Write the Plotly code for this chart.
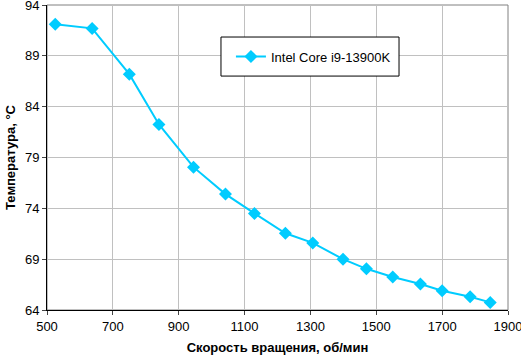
import plotly.graph_objects as go

rpm = [525, 637, 750, 840, 945, 1042, 1130, 1224, 1307, 1399, 1470, 1550, 1634, 1700, 1785, 1846]
temp = [92.1, 91.7, 87.2, 82.25, 78.05, 75.4, 73.5, 71.55, 70.6, 69.0, 68.05, 67.25, 66.55, 65.9, 65.3, 64.75]
series_name = "Intel Core i9-13900K"
x_ticks = [500, 700, 900, 1100, 1300, 1500, 1700, 1900]
y_ticks = [64, 69, 74, 79, 84, 89, 94]

color = "#00CCFF"
font = "Liberation Sans, Arial, sans-serif"

fig = go.Figure()
fig.add_trace(go.Scatter(
    x=rpm, y=temp, mode="lines+markers", name=series_name,
    line=dict(color=color, width=2),
    marker=dict(symbol="diamond", size=10, color=color),
))

fig.update_layout(
    width=521, height=355,
    margin=dict(l=47, r=13, t=5, b=45, autoexpand=False),
    paper_bgcolor="white", plot_bgcolor="white",
    font=dict(family=font, size=13, color="black"),
    showlegend=True,
    legend=dict(x=0.399, y=0.831, xanchor="left", yanchor="middle",
                borderwidth=0, bgcolor="rgba(0,0,0,0)",
                font=dict(size=13), itemwidth=30),
    xaxis=dict(range=[500, 1900], tickvals=x_ticks, ticks="outside", ticklen=4,
               automargin=False, ticklabeloverflow="allow",
               showline=True, linecolor="black", linewidth=1,
               showgrid=True, gridcolor="#c0c0c0", gridwidth=1, zeroline=False,
               title=dict(text="<b>Скорость вращения, об/мин</b>", font=dict(size=13), standoff=10)),
    yaxis=dict(range=[64, 94], tickvals=y_ticks, ticks="outside", ticklen=4,
               automargin=False, ticklabeloverflow="allow",
               showline=True, linecolor="black", linewidth=1,
               showgrid=True, gridcolor="#c0c0c0", gridwidth=1, zeroline=False,
               title=dict(text="<b>Температура, °С</b>", font=dict(size=13), standoff=6)),
    shapes=[
        dict(type="rect", xref="paper", yref="paper", x0=0, x1=1, y0=0, y1=1,
             line=dict(color="#808080", width=1), layer="below"),
        dict(type="rect", xref="paper", yref="paper", x0=0.3774, x1=0.7636, y0=0.767, y1=0.895,
             line=dict(color="black", width=1), fillcolor="white", layer="above"),
    ],
)

fig.write_html("out.html", config={"displayModeBar": False},
               post_script="document.body.style.margin='0';document.body.style.overflow='hidden';")
